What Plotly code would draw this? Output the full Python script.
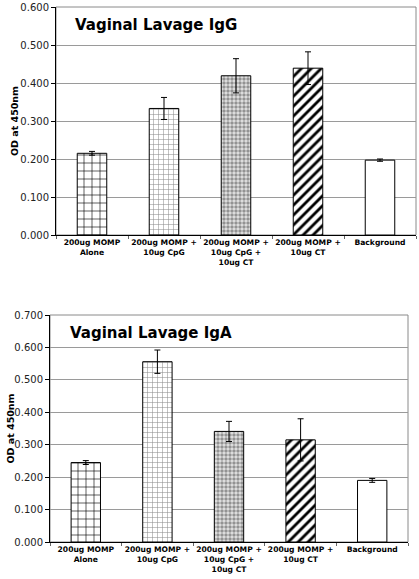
import plotly.graph_objects as go

categories = ["200ug MOMP<br>Alone", "200ug MOMP +<br>10ug CpG", "200ug MOMP +<br>10ug CpG +<br>10ug CT",
              "200ug MOMP +<br>10ug CT", "Background"]
igg_values = [0.215, 0.333, 0.419, 0.439, 0.197]
igg_errors = [0.005, 0.029, 0.045, 0.043, 0.003]
iga_values = [0.245, 0.556, 0.341, 0.315, 0.190]
iga_errors = [0.006, 0.036, 0.031, 0.065, 0.006]
igg_ticks = [0.0, 0.1, 0.2, 0.3, 0.4, 0.5, 0.6]
iga_ticks = [0.0, 0.1, 0.2, 0.3, 0.4, 0.5, 0.6, 0.7]
titles = ["Vaginal Lavage IgG", "Vaginal Lavage IgA"]
y_title = "OD at 450nm"

W, H = 419, 579
FONT = "DejaVu Sans"

pattern = dict(
    shape=["+", "+", ".", "/", ""],
    fgcolor=["#000000", "#8a8a8a", "#dcdcdc", "#000000", "#000000"],
    bgcolor=["#ffffff", "#ffffff", "#8a8a8a", "#ffffff", "#ffffff"],
    fgopacity=1,
    size=[8, 5, 4, 7, 8],
    solidity=[0.15, 0.2, 0.6, 0.4, 0.2],
    fillmode="replace",
)

bold_cats = ["<b>" + c.replace("<br>", "</b><br><b>") + "</b>" for c in categories]

fig = go.Figure()

panels = [
    dict(vals=igg_values, errs=igg_errors, ticks=igg_ticks, xa="x", ya="y",
         xdom=[56 / W, 416 / W], ydom=[1 - 235 / H, 1 - 7 / H], rng=[0, 0.6],
         title=titles[0], tx=73, ty=25, ytx=15),
    dict(vals=iga_values, errs=iga_errors, ticks=iga_ticks, xa="x2", ya="y2",
         xdom=[50 / W, 408 / W], ydom=[1 - 542 / H, 1 - 315 / H], rng=[0, 0.7],
         title=titles[1], tx=68, ty=333, ytx=10),
]

for i, p in enumerate(panels):
    fig.add_trace(go.Bar(
        x=bold_cats, y=p["vals"], xaxis=p["xa"], yaxis=p["ya"],
        width=0.41,
        marker=dict(color="#ffffff", line=dict(color="#000000", width=1), pattern=pattern),
        error_y=dict(type="data", array=p["errs"], visible=True, color="#000000", thickness=1, width=3),
        showlegend=False,
    ))
    sfx = "" if i == 0 else "2"
    fig.update_layout(**{
        "xaxis" + sfx: dict(domain=p["xdom"], anchor=p["ya"], showline=True, linecolor="#000000",
                            linewidth=1, ticks="outside", ticklen=3, tickcolor="#666666",
                            tickson="boundaries", mirror=False, showgrid=False, tickangle=0,
                            automargin=False,
                            tickfont=dict(family=FONT, size=7.6, color="#000000")),
        "yaxis" + sfx: dict(domain=p["ydom"], anchor=p["xa"], range=p["rng"], tickvals=p["ticks"],
                            tickformat=".3f", showline=True, linecolor="#000000", linewidth=1,
                            ticks="outside", ticklen=4, tickcolor="#000000", automargin=False,
                            showgrid=True, gridcolor="#9a9a9a", gridwidth=1, zeroline=False,
                            tickfont=dict(family=FONT, size=10, color="#222222")),
    })
    fig.add_shape(type="rect", xref="paper", yref="paper",
                  x0=p["xdom"][0], x1=p["xdom"][1], y0=p["ydom"][0], y1=p["ydom"][1],
                  line=dict(color="#8a8a8a", width=1), layer="below")
    fig.add_annotation(text="<b>" + p["title"] + "</b>", xref="paper", yref="paper",
                       x=p["tx"] / W, y=1 - p["ty"] / H, xanchor="left", yanchor="middle",
                       showarrow=False, font=dict(family=FONT, size=15, color="#000000"))
    fig.add_annotation(text="<b>" + y_title + "</b>", xref="paper", yref="paper",
                       x=p["ytx"] / W, y=(p["ydom"][0] + p["ydom"][1]) / 2, textangle=-90,
                       xanchor="center", yanchor="middle", showarrow=False,
                       font=dict(family=FONT, size=9.5, color="#000000"))

fig.update_layout(width=W, height=H, margin=dict(l=0, r=0, t=0, b=0),
                  paper_bgcolor="#ffffff", plot_bgcolor="#ffffff", bargap=0.59)

fig.write_html("out.html", config={"displayModeBar": False},
               post_script="document.body.style.margin='0';document.body.style.padding='0';")
